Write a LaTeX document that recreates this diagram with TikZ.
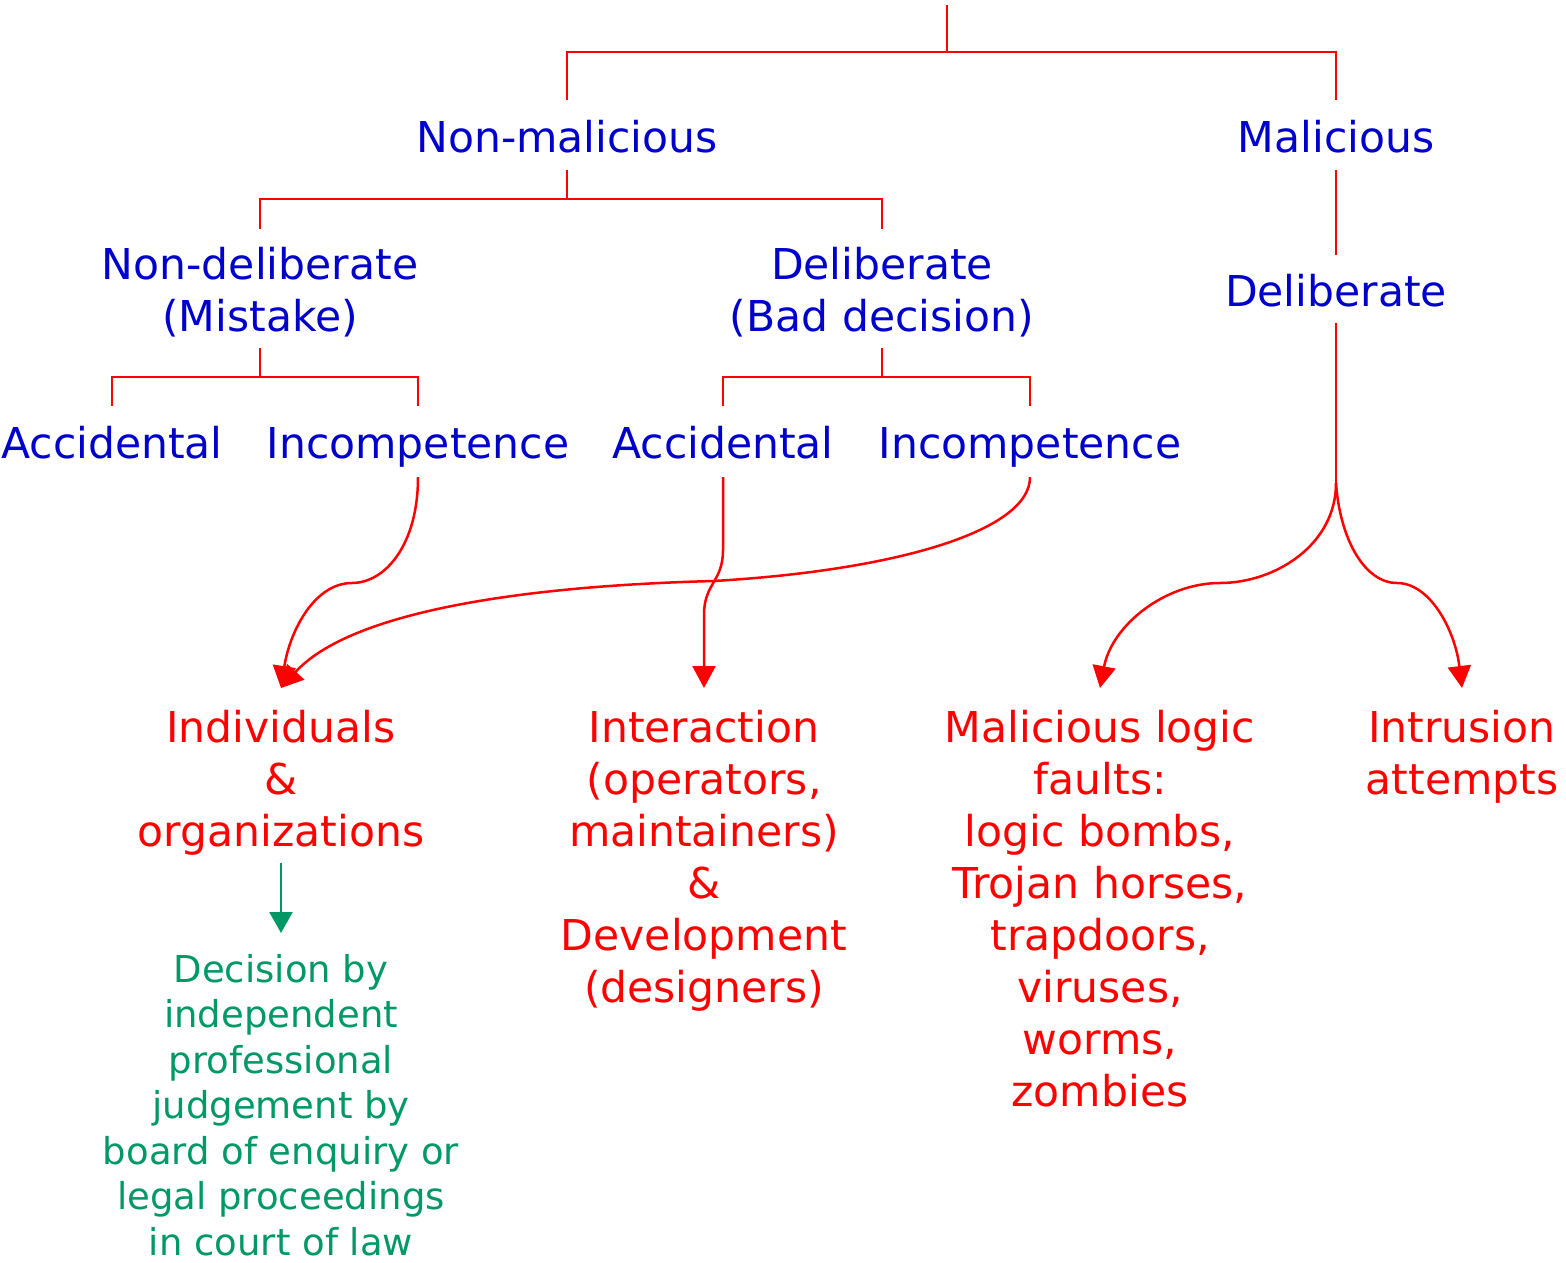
\documentclass[tikz,border=0pt]{standalone}
\usepackage{fontspec}
\setmainfont{DejaVu Sans}
\usetikzlibrary{arrows.meta}
\definecolor{tblue}{RGB}{0,0,204}
\definecolor{tred}{RGB}{255,0,0}
\definecolor{tgreen}{RGB}{0,153,102}
\begin{document}
\begin{tikzpicture}[x=1pt,y=-1pt,
  lab/.style={inner sep=0pt, align=center, font=\fontsize{42.5}{52}\selectfont},
  one/.style={lab, text height=32pt, text depth=10pt, anchor=base},
  multi/.style={lab, anchor=north},
  bl/.style={text=tblue},
  rd/.style={text=tred},
  tree/.style={draw=tred, line width=2.5pt},
  arr/.style={tree, -{Triangle[length=22pt,width=23pt]}},
  garr/.style={draw=tgreen, line width=2.5pt, -{Triangle[length=21pt,width=23pt]}},
  gr/.style={inner sep=0pt, align=center, text=tgreen, font=\fontsize{37}{45.5}\selectfont, anchor=north}]
\useasboundingbox (0,0) rectangle (1566,1263);

% labels
\node[one,bl] (nm) at (567,152) {Non-malicious};
\node[one,bl] (mal) at (1336,152) {Malicious};
\node[multi,bl] (nd) at (260,247) {Non-deliberate\\(Mistake)};
\node[multi,bl] (db) at (882,247) {Deliberate\\(Bad decision)};
\node[one,bl] (del) at (1336,306) {Deliberate};
\node[one,bl] (acc1) at (112,458) {Accidental};
\node[one,bl] (inc1) at (418,458) {Incompetence};
\node[one,bl] (acc2) at (723,458) {Accidental};
\node[one,bl] (inc2) at (1030,458) {Incompetence};
\node[multi,rd] (ind) at (281,710) {Individuals\\\&\\organizations};
\node[multi,rd] (int) at (704,710) {Interaction\\(operators,\\maintainers)\\\&\\Development\\(designers)};
\node[multi,rd] (ml) at (1100,710) {Malicious logic\\faults:\\logic bombs,\\Trojan horses,\\trapdoors,\\viruses,\\worms,\\zombies};
\node[multi,rd] (intr) at (1462,710) {Intrusion\\attempts};
\node[gr] (dec) at (281,954) {Decision by\\independent\\professional\\judgement by\\board of enquiry or\\legal proceedings\\in court of law};

% junction points
\coordinate (root) at (947,5);
\coordinate (b1) at (947,52);
\coordinate (b2) at (567,199);
\coordinate (b3) at (260,377);
\coordinate (b4) at (882,377);
\coordinate (split) at (1336,483);
\coordinate (w1) at (352,583);
\coordinate (w2) at (714,581);
\coordinate (w3a) at (723,550);
\coordinate (w3b) at (704,615);
\coordinate (w4) at (1220,583);
\coordinate (w5) at (1397,583);

% tree
\draw[tree] (root) -- (b1);
\draw[tree] ([yshift=20pt]nm.north) |- (b1) -| ([yshift=20pt]mal.north);
\draw[tree] ([yshift=-8pt]nm.south) -- (b2);
\draw[tree] ([yshift=18pt]nd.north) |- (b2) -| ([yshift=18pt]db.north);
\draw[tree] ([yshift=-8pt]mal.south) -- ([yshift=19pt]del.north);
\draw[tree] ([yshift=-11pt]nd.south) -- (b3);
\draw[tree] ([yshift=20pt]acc1.north) |- (b3) -| ([yshift=20pt]inc1.north);
\draw[tree] ([yshift=-11pt]db.south) -- (b4);
\draw[tree] ([yshift=20pt]acc2.north) |- (b4) -| ([yshift=20pt]inc2.north);
\draw[tree] ([yshift=-7pt]del.south) -- (split);

% curved arrows
\draw[arr] ([yshift=-9pt]inc1.south) .. controls (418,545) and (385,583) .. (w1)
  .. controls (315,583) and (290,630) .. ([yshift=22pt]ind.north);
\draw[arr] ([yshift=-9pt]inc2.south) .. controls (1030,530) and (900,570) .. (w2)
  .. controls (520,586) and (350,612) .. ([yshift=22pt]ind.north);
\draw[arr] ([yshift=-9pt]acc2.south) -- (w3a) .. controls (723,582) and (704,583) .. (w3b)
  -- ([yshift=22pt]int.north);
\draw[arr] (split) .. controls (1336,545) and (1275,583) .. (w4)
  .. controls (1165,583) and (1112,625) .. ([yshift=22pt]ml.north);
\draw[arr] (split) .. controls (1340,540) and (1365,583) .. (w5)
  .. controls (1430,583) and (1455,630) .. ([yshift=22pt]intr.north);

% green arrow
\draw[garr] ([yshift=-7pt]ind.south) -- ([yshift=21pt]dec.north);
\end{tikzpicture}
\end{document}
